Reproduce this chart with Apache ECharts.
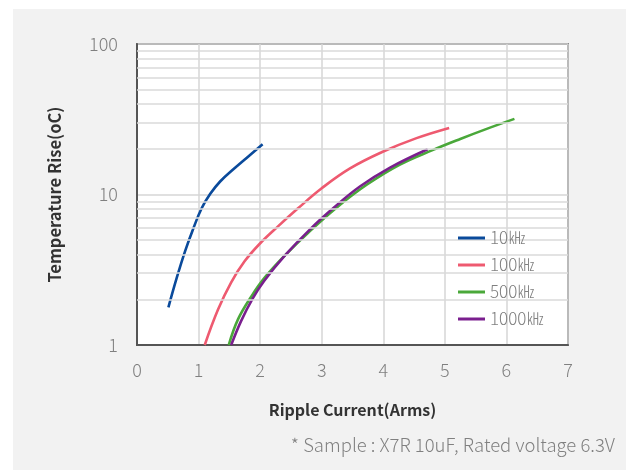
<!DOCTYPE html>
<html>
<head>
<meta charset="utf-8">
<script src="https://cdn.jsdelivr.net/npm/echarts@6/dist/echarts.min.js"></script>
<style>
  html, body { margin: 0; padding: 0; background: #fff; }
  #chart { width: 627px; height: 470px; }
</style>
</head>
<body>
<div id="chart"></div>
<script>
// values, [current (Arms), temperature rise (oC)]
var names = ["10㎑", "100㎑", "500㎑", "1000㎑"];
var colors = ["#0a4a9b", "#ee5a70", "#4aa83a", "#7a1f8e"];
var s10k = [[0.51, 1.78], [0.645, 2.79], [0.78, 4.19], [0.915, 5.95], [1.05, 8.1], [1.19, 10.1],
  [1.35, 12.2], [1.565, 14.7], [1.78, 17.5], [2.04, 21.6]];
var s100k = [[1.1, 1.0], [1.316, 1.72], [1.53, 2.61], [1.75, 3.61], [1.99, 4.69], [2.29, 6.14],
  [2.615, 8.09], [3.0, 11.0], [3.46, 14.9], [4.0, 19.3], [4.54, 23.7], [5.07, 27.7]];
var s500k = [[1.49, 1.0], [1.64, 1.48], [1.86, 2.11], [2.07, 2.79], [2.4, 3.93], [2.78, 5.57],
  [3.24, 8.17], [3.73, 11.6], [4.27, 15.8], [4.81, 19.8], [5.25, 23.4], [5.68, 27.3], [6.13, 31.8]];
var s1000k = [[1.53, 1.0], [1.69, 1.44], [1.88, 2.04], [2.07, 2.68], [2.4, 3.92], [2.81, 5.87],
  [3.19, 8.13], [3.62, 11.3], [4.11, 15.1], [4.72, 20.0]];
var minorY = [2, 3, 4, 5, 6, 7, 8, 9, 20, 30, 40, 50, 60, 70, 80, 90];

var font = "'Noto Sans CJK KR', 'Noto Sans', sans-serif";
var chart = echarts.init(document.getElementById("chart"));

var allData = [s10k, s100k, s500k, s1000k];
var series = [{
  // minor log grid lines
  type: "line",
  data: [],
  z: 1,
  silent: true,
  markLine: {
    silent: true,
    symbol: "none",
    label: { show: false },
    lineStyle: { color: "#dadada", width: 1.5, type: "solid" },
    animation: false,
    data: minorY.map(function (v) { return { yAxis: v }; })
  }
}];
allData.forEach(function (d, i) {
  series.push({
    name: names[i],
    type: "line",
    data: d,
    smooth: 0.4,
    showSymbol: false,
    z: 3,
    lineStyle: { color: colors[i], width: 2.6 },
    itemStyle: { color: colors[i] }
  });
});

chart.setOption({
  backgroundColor: "#fff",
  animation: false,
  textStyle: { fontFamily: font },
  graphic: [
    { type: "rect", z: -10, shape: { x: 13, y: 9, width: 613, height: 470 }, style: { fill: "#f2f2f2" } },
    {
      type: "text", right: 12, top: 436,
      style: { text: "* Sample : X7R 10uF, Rated voltage 6.3V", fill: "#808080", font: "300 18.5px " + font }
    }
  ],
  grid: {
    left: 137, right: 59, top: 44, bottom: 125,
    show: true, backgroundColor: "#fff", borderColor: "#3a3a3a", borderWidth: 1.5
  },
  legend: {
    data: names,
    orient: "vertical",
    left: 453, top: 223,
    z: 10,
    itemWidth: 27, itemHeight: 3, itemGap: 7,
    icon: "rect",
    textStyle: { color: "#808080", fontSize: 17, fontWeight: 300, lineHeight: 20, fontFamily: font }
  },
  xAxis: {
    type: "value",
    min: 0, max: 7, interval: 1,
    name: "Ripple Current(Arms)",
    nameLocation: "middle",
    nameGap: 57,
    nameTextStyle: { color: "#333", fontSize: 16, fontWeight: "bold", fontFamily: font },
    axisLine: { lineStyle: { color: "#555", width: 2 } },
    axisTick: { show: false },
    axisLabel: { color: "#808080", fontSize: 18, fontWeight: 300, margin: 16 },
    splitLine: { lineStyle: { color: "#d6d6d6", width: 1.5 } }
  },
  yAxis: {
    type: "log",
    logBase: 10,
    min: 1, max: 100,
    name: "Temperature Rise(oC)",
    nameLocation: "middle",
    nameGap: 74,
    nameTextStyle: { color: "#333", fontSize: 16.5, fontWeight: "bold", fontFamily: font },
    axisLine: { show: true, lineStyle: { color: "#555", width: 2 } },
    axisTick: { show: false },
    axisLabel: { color: "#808080", fontSize: 18, fontWeight: 300, margin: 19 },
    splitLine: { lineStyle: { color: "#d6d6d6", width: 1.5 } }
  },
  series: series
});
</script>
</body>
</html>
